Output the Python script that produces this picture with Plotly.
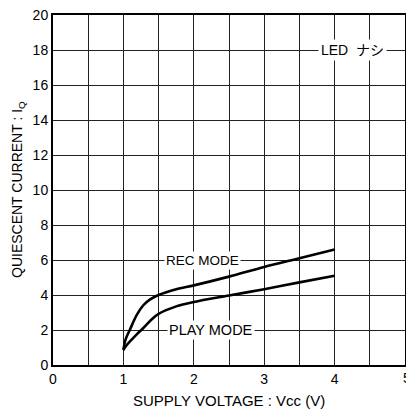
import plotly.graph_objects as go

rec_vcc = [1.0, 1.03, 1.09, 1.19, 1.28, 1.38, 1.5, 1.75, 2.0, 2.5, 3.0, 3.5, 4.0]
rec_mode = [0.86, 1.45, 2.0, 2.86, 3.4, 3.75, 4.0, 4.33, 4.55, 5.05, 5.6, 6.1, 6.6]
play_vcc = [1.0, 1.04, 1.09, 1.19, 1.28, 1.4, 1.5, 1.75, 2.0, 2.5, 3.0, 3.5, 4.0]
play_mode = [0.86, 1.1, 1.33, 1.75, 2.1, 2.6, 2.92, 3.35, 3.6, 3.97, 4.33, 4.72, 5.1]

x_ticks = [0, 1, 2, 3, 4]
y_ticks = [0, 2, 4, 6, 8, 10, 12, 14, 16, 18, 20]

FONT = "Liberation Sans, Arial, sans-serif"

fig = go.Figure()
fig.add_trace(go.Scatter(x=rec_vcc, y=rec_mode, mode="lines",
                         line=dict(color="black", width=2.6, shape="spline", smoothing=0.9),
                         name="REC MODE", showlegend=False))
fig.add_trace(go.Scatter(x=play_vcc, y=play_mode, mode="lines",
                         line=dict(color="black", width=2.6, shape="spline", smoothing=0.9),
                         name="PLAY MODE", showlegend=False))

fig.add_annotation(x=2.12, y=6, text="REC MODE", showarrow=False, bgcolor="white",
                   font=dict(family=FONT, size=13.5, color="black"), borderpad=1)
fig.add_annotation(x=2.24, y=2, text="PLAY MODE", showarrow=False, bgcolor="white",
                   font=dict(family=FONT, size=14.5, color="black"), borderpad=1)
fig.add_annotation(x=4.25, y=18, text="LED  ナシ", showarrow=False, bgcolor="white",
                   font=dict(family="Liberation Sans, Noto Sans CJK JP, sans-serif", size=14, color="black"),
                   borderpad=2)

# last x tick label (partly beyond the right edge, as in the reference)
fig.add_annotation(x=5, y=0, yref="y", xref="x", yshift=-13, xshift=2, text="5", showarrow=False,
                   font=dict(family=FONT, size=14, color="black"))

# axis titles placed as annotations
fig.add_annotation(xref="paper", yref="paper", x=0.5, y=0, yshift=-35, yanchor="middle",
                   text="SUPPLY VOLTAGE : Vcc (V)", showarrow=False,
                   font=dict(family=FONT, size=15, color="black"))
fig.add_annotation(xref="paper", yref="paper", x=0, y=0.5, xshift=-35, xanchor="center",
                   text="QUIESCENT CURRENT : I<sub>Q</sub>", showarrow=False, textangle=-90,
                   font=dict(family=FONT, size=14, color="black"))

fig.update_layout(
    width=406, height=409,
    margin=dict(l=53, r=1, t=15, b=44),
    paper_bgcolor="white", plot_bgcolor="white",
    font=dict(family=FONT, size=14, color="black"),
)
fig.update_xaxes(
    range=[0, 5], tickvals=x_ticks, ticktext=[str(v) for v in x_ticks],
    showgrid=True, gridcolor="#222", gridwidth=1,
    minor=dict(tickvals=[0.5, 1.5, 2.5, 3.5, 4.5], showgrid=True, gridcolor="#222", gridwidth=1),
    showline=True, linecolor="black", linewidth=2, mirror=True,
    zeroline=False, ticks="", tickfont=dict(size=14), automargin=False,
)
fig.update_yaxes(
    range=[0, 20], tickvals=y_ticks, ticktext=[str(v) for v in y_ticks],
    showgrid=True, gridcolor="#222", gridwidth=1,
    showline=True, linecolor="black", linewidth=2, mirror=True,
    zeroline=False, ticks="", tickfont=dict(size=14), automargin=False,
)

fig.write_html("out.html", config={"displayModeBar": False},
               post_script="document.body.style.margin='0';document.body.style.overflow='hidden';")
